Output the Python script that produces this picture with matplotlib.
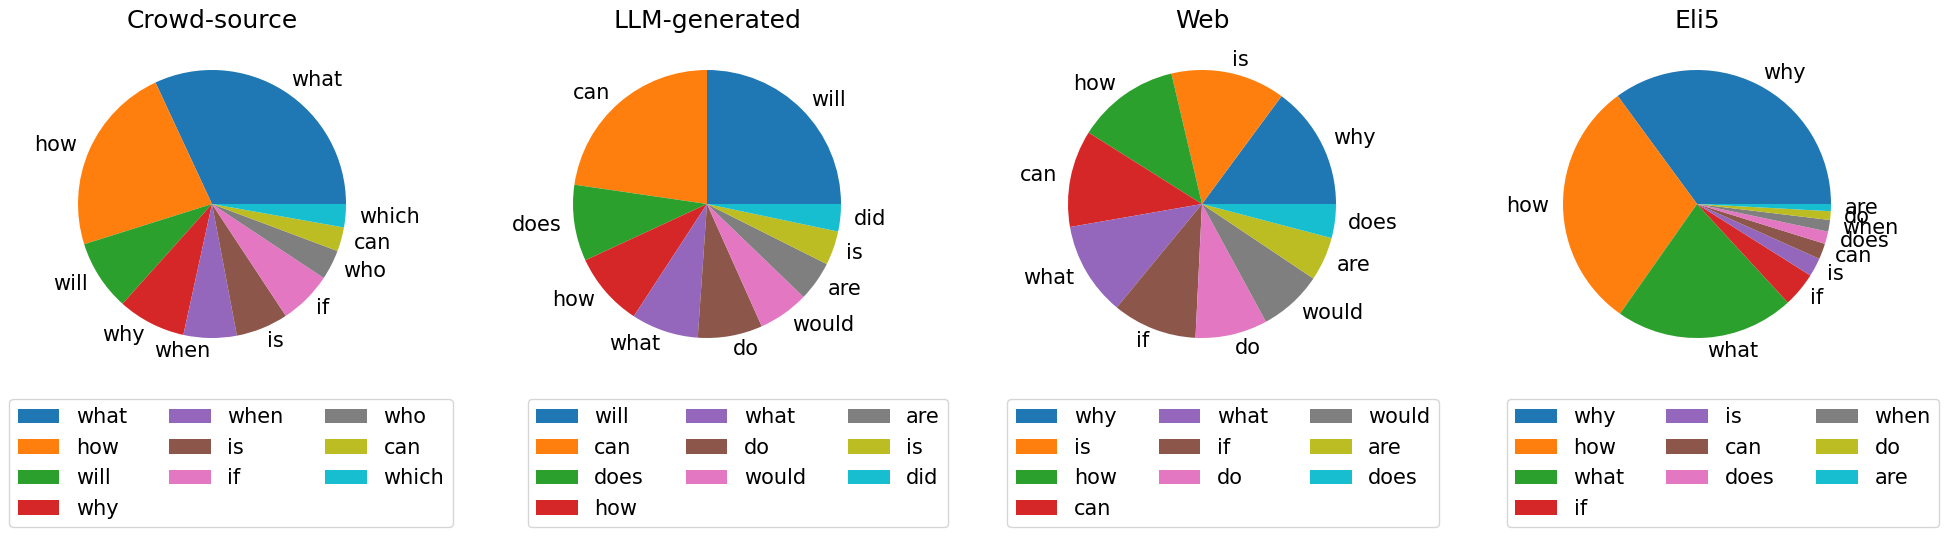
import matplotlib
matplotlib.use("Agg")
import matplotlib.pyplot as plt

titles = ["Crowd-source", "LLM-generated", "Web", "Eli5"]

crowd_labels = ["what", "how", "will", "why", "when", "is", "if", "who", "can", "which"]
crowd_values = [31.9, 22.9, 8.5, 8.2, 6.4, 6.3, 6.4, 3.6, 2.9, 2.8]

llm_labels = ["will", "can", "does", "how", "what", "do", "would", "are", "is", "did"]
llm_values = [25.0, 22.7, 9.2, 8.9, 8.1, 7.8, 6.1, 4.8, 4.1, 3.3]

web_labels = ["why", "is", "how", "can", "what", "if", "do", "would", "are", "does"]
web_values = [14.9, 13.8, 12.4, 11.7, 11.3, 10.2, 8.7, 7.7, 5.3, 4.1]

eli5_labels = ["why", "how", "what", "if", "is", "can", "does", "when", "do", "are"]
eli5_values = [35.1, 30.2, 21.6, 4.2, 2.25, 1.9, 1.5, 1.4, 1.05, 0.86]

all_labels = [crowd_labels, llm_labels, web_labels, eli5_labels]
all_values = [crowd_values, llm_values, web_values, eli5_values]

W, H = 1948, 537
fig = plt.figure(figsize=(W / 100, H / 100), dpi=100)

pie_cx = [212, 707, 1202, 1697]
leg_cx = [231, 738, 1223, 1723]
size = 335
cy_top = 204

for i in range(4):
    left = (pie_cx[i] - size / 2) / W
    bottom = (H - (cy_top + size / 2)) / H
    ax = fig.add_axes([left, bottom, size / W, size / H])
    wedges, texts = ax.pie(all_values[i], labels=all_labels[i],
                           textprops={"fontsize": 15})
    ax.set_title(titles[i], fontsize=18)
    fig.legend(wedges, all_labels[i], loc="upper center", ncol=3,
               fontsize=15, bbox_to_anchor=(leg_cx[i] / W, (H - 388.6) / H),
               bbox_transform=fig.transFigure)

fig.savefig("out.png", dpi=100)
